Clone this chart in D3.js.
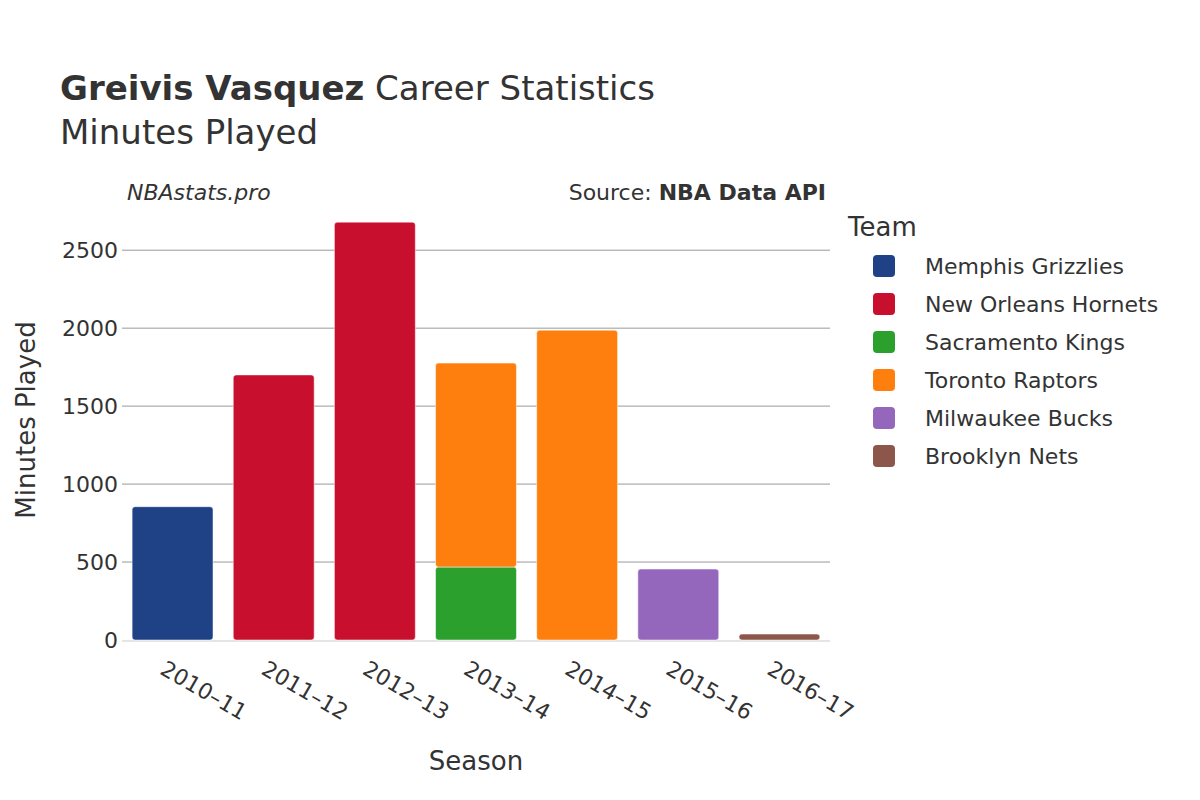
<!DOCTYPE html>
<html><head><meta charset="utf-8">
<script src="https://cdn.jsdelivr.net/npm/d3@7"></script>
<style>body{margin:0;background:#fff}text{font-family:"DejaVu Sans",sans-serif;fill:#333}</style>
</head><body><svg id="c" width="1200" height="800"></svg>
<script>
const seasons=["2010–11","2011–12","2012–13","2013–14","2014–15","2015–16","2016–17"];
const teams=["Memphis Grizzlies","New Orleans Hornets","Sacramento Kings","Toronto Raptors","Milwaukee Bucks","Brooklyn Nets"];
const colors=["#1f4287","#c8102e","#2ca02c","#ff7f0e","#9467bd","#8c564b"];
// minutes per season, per team (stack order)
const memphis=[855,0,0,0,0,0,0];
const hornets=[0,1700,2680,0,0,0,0];
const kings=[0,0,0,468,0,0,0];
const raptors=[0,0,0,1308,1987,0,0];
const bucks=[0,0,0,0,0,455,0];
const nets=[0,0,0,0,0,0,38];
const series=[memphis,hornets,kings,raptors,bucks,nets];
const yTicks=[0,500,1000,1500,2000,2500];

const svg=d3.select("#c");
const L=122,R=830,T=212,B=640;
const x=d3.scaleBand().domain(seasons).range([L,R]).paddingInner(0.2).paddingOuter(0.1);
const y=d3.scaleLinear().domain([0,2745]).range([B,T]);

svg.append("g").selectAll("line").data(yTicks.slice(1)).join("line")
 .attr("x1",L).attr("x2",R).attr("y1",d=>y(d)).attr("y2",d=>y(d)).attr("stroke","#999").attr("stroke-width",1);
svg.append("line").attr("x1",L).attr("x2",R).attr("y1",B+1).attr("y2",B+1).attr("stroke","#e5e5e5").attr("stroke-width",2);
svg.append("g").selectAll("text").data(yTicks).join("text")
 .attr("x",L-4).attr("y",d=>y(d)).attr("dy","0.35em").attr("text-anchor","end").attr("font-size",22).text(d=>d);

seasons.forEach((s,i)=>{
  let base=0;
  series.forEach((arr,k)=>{
    const v=arr[i]; if(!v) return;
    svg.append("rect").attr("x",x(s)).attr("width",x.bandwidth())
     .attr("y",y(base+v)).attr("height",y(base)-y(base+v)).attr("rx",3)
     .attr("fill",colors[k]).attr("stroke","#fff").attr("stroke-width",0.5);
    base+=v;
  });
});

svg.append("g").selectAll("text").data(seasons).join("text")
 .attr("transform",d=>`translate(${x(d)+x.bandwidth()/2-6},${B+20}) rotate(30)`)
 .attr("font-size",22).attr("dy","0.7em").attr("text-anchor","start").text(d=>d);

svg.append("text").attr("x",476).attr("y",770).attr("text-anchor","middle").attr("font-size",26).text("Season");
svg.append("text").attr("transform","translate(26,420) rotate(-90)").attr("dy","0.35em").attr("text-anchor","middle").attr("font-size",26).text("Minutes Played");

const t=svg.append("text").attr("x",60).attr("y",100).attr("font-size",34);
t.append("tspan").attr("font-weight","bold").text("Greivis Vasquez");
t.append("tspan").text(" Career Statistics");
svg.append("text").attr("x",60).attr("y",144).attr("font-size",34).text("Minutes Played");
svg.append("text").attr("x",127).attr("y",200).attr("font-size",22).attr("font-style","italic").text("NBAstats.pro");
const s2=svg.append("text").attr("x",826).attr("y",200).attr("font-size",22).attr("text-anchor","end");
s2.append("tspan").text("Source: ");s2.append("tspan").attr("font-weight","bold").text("NBA Data API");

svg.append("text").attr("x",848).attr("y",236).attr("font-size",26).text("Team");
teams.forEach((tm,i)=>{
  const yy=266+i*38;
  svg.append("rect").attr("x",873).attr("y",yy-11).attr("width",22).attr("height",22).attr("rx",4).attr("fill",colors[i]);
  svg.append("text").attr("x",925).attr("y",yy).attr("dy","0.35em").attr("font-size",22).text(tm);
});
</script></body></html>
